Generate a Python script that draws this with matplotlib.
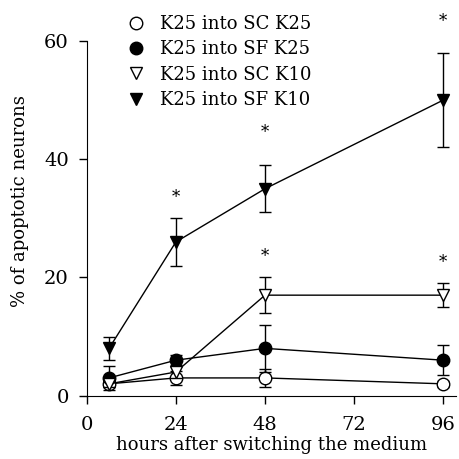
import matplotlib
matplotlib.use("Agg")
import matplotlib.pyplot as plt

hours = [6, 24, 48, 96]
sc_k25 = [2, 3, 3, 2]
sc_k25_err = [0.5, 1.2, 1.5, 0.5]
sf_k25 = [3, 6, 8, 6]
sf_k25_err = [2, 0.8, 4, 2.5]
sc_k10 = [2, 4, 17, 17]
sc_k10_err = [0.5, 1, 3, 2]
sf_k10 = [8, 26, 35, 50]
sf_k10_err = [2, 4, 4, 8]
labels = ["K25 into SC K25", "K25 into SF K25", "K25 into SC K10", "K25 into SF K10"]
star_x = [24, 48, 96, 48, 96]
star_y = [33.5, 44.5, 63.3, 23.5, 22.5]
xticks = [0, 24, 48, 72, 96]
yticks = [0, 20, 40, 60]

plt.rcParams['font.family'] = ['DejaVu Serif']
fig = plt.figure(figsize=(4.59, 4.59), dpi=100)
ax = fig.add_axes([0.189, 0.138, 0.805, 0.85])

series = [
    (sc_k25, sc_k25_err, 'o', 'white', 9),
    (sf_k25, sf_k25_err, 'o', 'black', 9),
    (sc_k10, sc_k10_err, 'v', 'white', 9),
    (sf_k10, sf_k10_err, 'v', 'black', 9),
]
handles = []
for i, (y, e, m, fc, ms) in enumerate(series):
    h = ax.errorbar(hours, y, yerr=e, fmt='-', color='black', lw=1.0,
                    marker=m, markersize=ms, markerfacecolor=fc,
                    markeredgecolor='black', markeredgewidth=1.0,
                    capsize=4, capthick=1.0, elinewidth=1.0, zorder=3 + i)
    handles.append(ax.plot([], [], ls='none', marker=m, markersize=ms,
                           markerfacecolor=fc, markeredgecolor='black',
                           markeredgewidth=1.0)[0])

for sx, sy in zip(star_x, star_y):
    ax.text(sx, sy, '*', ha='center', va='center', fontsize=12,
            clip_on=False)

ax.set_xlim(0, 99.5)
ax.set_ylim(0, 66)
ax.spines['top'].set_visible(False)
ax.spines['right'].set_visible(False)
ax.spines['left'].set_bounds(0, 60)
ax.set_xticks(xticks)
ax.set_yticks(yticks)
ax.tick_params(direction='out', length=6, width=1, labelsize=14)
ax.tick_params(axis='y', pad=7)
ax.tick_params(axis='x', pad=9)
ax.set_xlabel('hours after switching the medium', fontsize=13, labelpad=1)
ax.set_ylabel('% of apoptotic neurons', fontsize=13, labelpad=11)

ax.legend(handles, labels, loc='upper left', bbox_to_anchor=(0.109, 0.975),
          frameon=False, fontsize=13, handlelength=1.0, handletextpad=0.85,
          labelspacing=0.4, borderaxespad=0, borderpad=0)

fig.savefig('out.png', dpi=100)
